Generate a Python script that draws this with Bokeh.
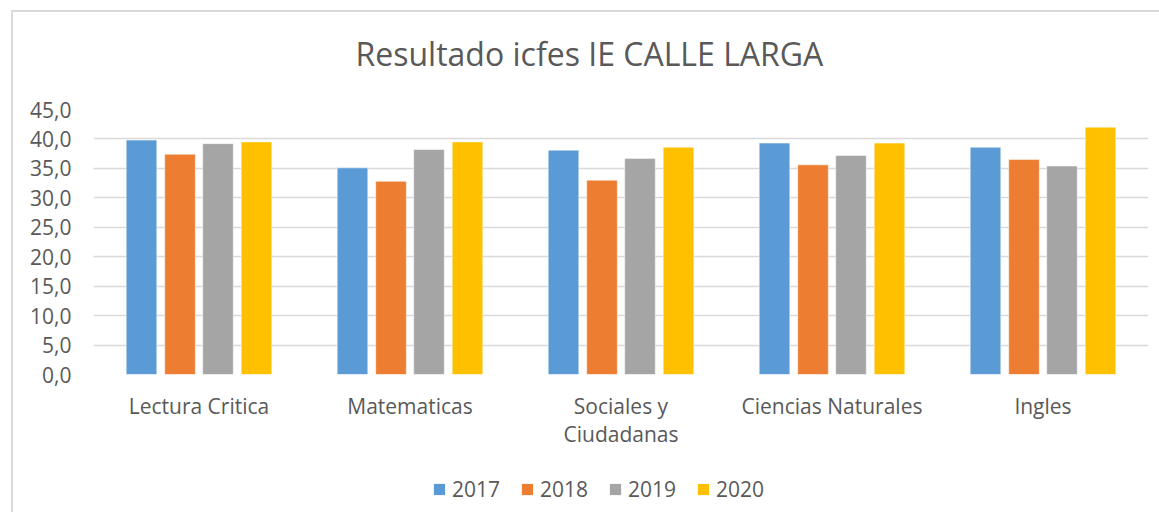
from bokeh.plotting import figure
from bokeh.models import FactorRange, Legend, LegendItem, ColumnDataSource, Title
from bokeh.layouts import column
from bokeh.transform import dodge
from bokeh.embed import file_html
from bokeh.resources import INLINE

categories = ["Lectura Critica", "Matematicas", "Sociales y\nCiudadanas", "Ciencias Naturales", "Ingles"]
years = ["2017", "2018", "2019", "2020"]
v2017 = [39.8, 35.1, 38.1, 39.3, 38.6]
v2018 = [37.4, 32.8, 33.0, 35.6, 36.5]
v2019 = [39.2, 38.2, 36.7, 37.2, 35.4]
v2020 = [39.5, 39.5, 38.6, 39.3, 42.0]
colors = ["#5B9BD5", "#ED7D31", "#A5A5A5", "#FFC000"]
y_ticks = [0, 5, 10, 15, 20, 25, 30, 35, 40, 45]
y_tick_labels = ["0,0", "5,0", "10,0", "15,0", "20,0", "25,0", "30,0", "35,0", "40,0", "45,0"]

FONT = "Open Sans"
TXT = "#595959"

src = ColumnDataSource(dict(cat=categories, v2017=v2017, v2018=v2018, v2019=v2019, v2020=v2020))

p = figure(width=1146, height=448, x_range=FactorRange(*categories, range_padding=0),
           y_range=(0, 45), output_backend="svg", toolbar_location=None,
           min_border_left=80, min_border_right=11, min_border_top=97, min_border_bottom=86)
p.title = None

offsets = [-0.2725, -0.09, 0.09, 0.2725]
for yr, col, off in zip(years, colors, offsets):
    p.vbar(x=dodge("cat", off, range=p.x_range), top="v" + yr, width=0.145, source=src,
           fill_color=col, line_color="white", line_width=0.5)

# thin spacer between the plot area and the title
p.add_layout(Title(text=" ", text_font=FONT, text_font_size="1px", standoff=27), "above")
p.add_layout(Title(text="Resultado icfes  IE CALLE LARGA", align="left", offset=262, text_font=FONT,
                   text_font_size="32px", text_color=TXT, text_font_style="normal",
                   standoff=10), "above")

p.outline_line_color = None
p.xgrid.grid_line_color = None
p.ygrid.grid_line_color = "#d9d9d9"
p.ygrid.grid_line_width = 1.5
p.yaxis.ticker = y_ticks
p.yaxis.major_label_overrides = {t: l for t, l in zip(y_ticks, y_tick_labels)}
for ax in (p.xaxis, p.yaxis):
    ax.axis_line_color = None
    ax.major_tick_line_color = None
    ax.minor_tick_line_color = None
    ax.major_label_text_font = FONT
    ax.major_label_text_font_size = "21px"
    ax.major_label_text_color = TXT
p.yaxis.major_label_standoff = 16
p.xaxis.major_label_standoff = 11
p.xaxis.major_label_text_line_height = 1.0

# legend strip below the chart
q = figure(width=1146, height=52, x_range=FactorRange(*categories, range_padding=0),
           y_range=(100, 200), output_backend="svg", toolbar_location=None,
           x_axis_location=None, y_axis_location=None,
           min_border_left=0, min_border_right=0, min_border_top=0, min_border_bottom=0)
q.title = None
q.outline_line_color = None
q.grid.grid_line_color = None
leg_renderers = []
for yr, col, off in zip(years, colors, offsets):
    r = q.vbar(x=dodge("cat", off, range=q.x_range), top="v" + yr, width=0.145, source=src,
               fill_color=col, line_color=None)
    leg_renderers.append(r)

legend = Legend(items=[LegendItem(label=yr, renderers=[r]) for yr, r in zip(years, leg_renderers)],
                orientation="horizontal", location=(339, 9), padding=0, margin=0,
                spacing=20, glyph_width=14, glyph_height=14, label_standoff=6,
                label_text_font=FONT, label_text_font_size="21px", label_text_color=TXT,
                border_line_color=None, background_fill_alpha=0)
q.add_layout(legend, "center")

layout = column(p, q, spacing=0, margin=(10, 0, 0, 11),
                styles={"border-left": "2px solid #d9d9d9", "border-top": "2px solid #d9d9d9"})
open("out.html", "w").write(file_html(layout, INLINE))
